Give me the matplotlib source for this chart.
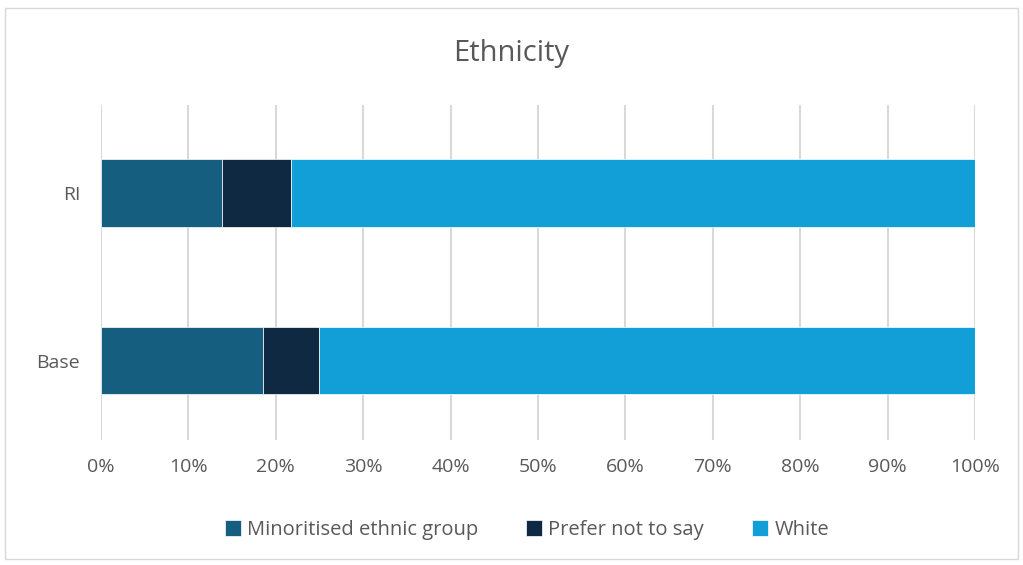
import numpy as np
import matplotlib.pyplot as plt
from matplotlib.patches import Rectangle

plt.rcParams['font.family'] = ['Open Sans', 'DejaVu Sans']

groups = ["Base", "RI"]
minoritised = [18.5, 13.8]
prefer_not = [6.4, 8.0]
white = [75.1, 78.2]

series = ["Minoritised ethnic group", "Prefer not to say", "White"]
colors = ["#165E80", "#0F2943", "#129ED6"]
text_col = "#595959"

fig = plt.figure(figsize=(10.23, 5.65), dpi=100)
fig.patches.append(Rectangle((0.005, 0.01), 0.99, 0.975, transform=fig.transFigure,
                             fill=False, edgecolor="#D9D9D9", linewidth=1))
ax = fig.add_axes([0.0987, 0.221, 0.8543, 0.593])

y = np.arange(len(groups))
left = np.zeros(len(groups))
for vals, name, c in zip([minoritised, prefer_not, white], series, colors):
    ax.barh(y, vals, left=left, height=0.405, color=c, label=name,
            edgecolor="white", linewidth=0.5, zorder=3)
    left += np.array(vals)

ax.set_xlim(0, 100)
ax.set_ylim(-0.475, 1.525)
ax.set_xticks(np.arange(0, 101, 10))
ax.set_xticklabels([f"{v}%" for v in range(0, 101, 10)])
ax.set_yticks(y)
ax.set_yticklabels(groups)
ax.tick_params(axis="both", length=0, labelsize=14, colors=text_col)
ax.tick_params(axis="x", pad=13)
ax.tick_params(axis="y", pad=15)
ax.grid(axis="x", color="#D9D9D9", linewidth=1.5, zorder=0)
for s in ax.spines.values():
    s.set_visible(False)

fig.text(0.5, 0.905, "Ethnicity", ha="center", va="center", fontsize=21, color=text_col)
fig.legend(loc="center", bbox_to_anchor=(0.515, 0.062), ncol=3, frameon=False,
           fontsize=14.5, labelcolor=text_col, handlelength=0.8, handleheight=0.8,
           handletextpad=0.3, columnspacing=2.4)

fig.savefig("out.png", dpi=100)
